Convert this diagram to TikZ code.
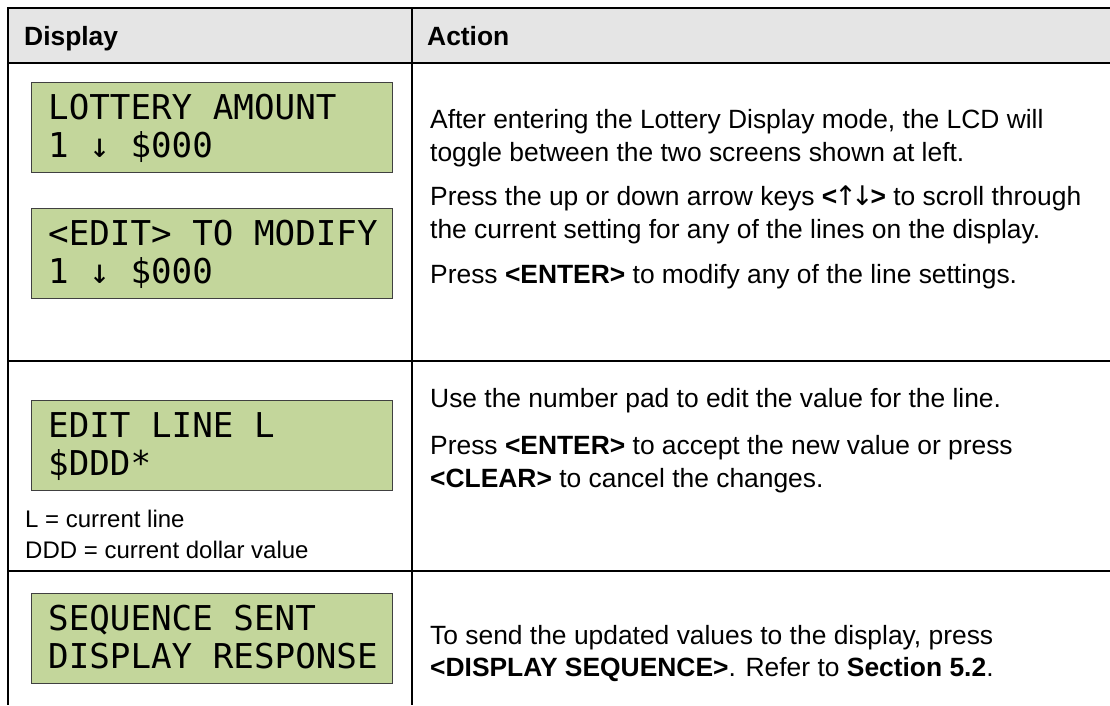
\documentclass[tikz,border=0pt]{standalone}
\usepackage{fontspec}
\setmainfont{Liberation Sans}
\newfontfamily\lcdfont{DejaVu Sans Mono}
\newfontfamily\arrowfont{DejaVu Sans}
\definecolor{lcdgreen}{RGB}{195,214,155}
\definecolor{lcdedge}{RGB}{64,64,64}
\definecolor{headgray}{RGB}{229,229,229}
\tikzset{
lcd/.style={draw=lcdedge,line width=1.3pt,fill=lcdgreen,anchor=north west,minimum width=361pt,minimum height=90pt,inner sep=0pt},
lcdtext/.style={anchor=base west,inner sep=0pt,font=\lcdfont\fontsize{34.2}{38}\selectfont},
body/.style={anchor=base west,inner sep=0pt,font=\fontsize{26.4}{33}\selectfont},
note/.style={anchor=base west,inner sep=0pt,font=\fontsize{24}{30}\selectfont},
head/.style={anchor=base west,inner sep=0pt,font=\bfseries\fontsize{26.4}{33}\selectfont},
rule/.style={line width=2.6pt},
}
\newcommand{\drawLcd}[5]{
\node [lcd] (#1) at (#2,#3) {};
\node [lcdtext] (#1top) at (#2+17,#3+37) {#4};
\node [lcdtext] (#1bot) at (#2+17,#3+75) {#5};
}
\newcommand{\upDown}{{\arrowfont\fontsize{27}{30}\selectfont\kern-3pt↑\kern-6pt↓\kern-3pt}}
\begin{document}
\begin{tikzpicture}[x=1pt,y=-1pt]
\useasboundingbox (0,0) rectangle (1110,705);
\fill [headgray] (8,8) rectangle (1110,63);
\draw [rule] (1110,8) -- (8,8) -- (8,705);
\draw [rule] (8,63) -- (1110,63);
\draw [rule] (8,361) -- (1110,361);
\draw [rule] (8,571) -- (1110,571);
\draw [rule] (412,8) -- (412,705);
\node [head] (hdisp) at (24,45) {Display};
\node [head] (hact) at (427,45) {Action};
%
\drawLcd{lotto}{31}{82}{LOTTERY AMOUNT}{1 ↓ \$000}
\drawLcd{modify}{31}{208}{<EDIT> TO MODIFY}{1 ↓ \$000}
\drawLcd{editline}{31}{400}{EDIT LINE L}{\$DDD*}
\drawLcd{sent}{31}{593}{SEQUENCE SENT}{DISPLAY RESPONSE}
\node [note] (noteL) at (25,527) {L = current line};
\node [note] (noteD) at (25,558) {DDD = current dollar value};
%
\node [body] (a1) at (430,128) {After entering the Lottery Display mode, the LCD will};
\node [body] (a2) at (430,161) {toggle between the two screens shown at left.};
\node [body] (a3) at (430,205) {Press the up or down arrow keys \textbf{<}\upDown\textbf{>} to scroll through};
\node [body] (a4) at (430,238) {the current setting for any of the lines on the display.};
\node [body] (a5) at (430,283) {Press \textbf{<ENTER>} to modify any of the line settings.};
\node [body] (b1) at (430,407) {Use the number pad to edit the value for the line.};
\node [body] (b2) at (430,454) {Press \textbf{<ENTER>} to accept the new value or press};
\node [body] (b3) at (430,487) {\textbf{<CLEAR>} to cancel the changes.};
\node [body] (c1) at (430,644) {To send the updated values to the display, press};
\node [body] (c2) at (430,676) {\textbf{<DISPLAY SEQUENCE>}. Refer to \textbf{Section 5.2}.};
\end{tikzpicture}
\end{document}
